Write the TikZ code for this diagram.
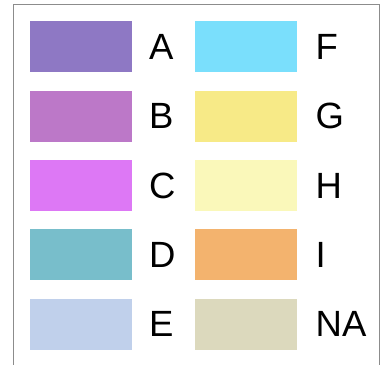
\documentclass[tikz,border=0pt]{standalone}
\usepackage{fontspec}
\setmainfont{Liberation Sans}
\usepackage{xcolor}
\usetikzlibrary{positioning}

\definecolor{colA}{HTML}{8E78C4}
\definecolor{colB}{HTML}{BC78C8}
\definecolor{colC}{HTML}{DD78F5}
\definecolor{colD}{HTML}{78BECB}
\definecolor{colE}{HTML}{C0D0EB}
\definecolor{colF}{HTML}{7ADFFC}
\definecolor{colG}{HTML}{F7EA87}
\definecolor{colH}{HTML}{FAF8BA}
\definecolor{colI}{HTML}{F3B36E}
\definecolor{colNA}{HTML}{DCD9BD}

\tikzset{
  swatch/.style={draw=none,minimum width=102pt,minimum height=51pt,inner sep=0pt},
  lab/.style={anchor=west,inner sep=0pt,font=\fontsize{36.5}{40}\selectfont}
}

\begin{document}
\begin{tikzpicture}[x=1pt,y=-1pt]
\useasboundingbox (0,0) rectangle (384,365);
% frame, open at the bottom
\draw[gray!90,line width=1pt] (13,365) -- (13,4) -- (379,4) -- (379,365);
% left column
\node[swatch,fill=colA] (sA) at (81,46.5) {};
\node[lab] (lA) at (149,46.5) {A};
\node[swatch,fill=colB] (sB) at (81,116) {};
\node[lab] (lB) at (149,116) {B};
\node[swatch,fill=colC] (sC) at (81,185.5) {};
\node[lab] (lC) at (149,185.5) {C};
\node[swatch,fill=colD] (sD) at (81,254.5) {};
\node[lab] (lD) at (149,254.5) {D};
\node[swatch,fill=colE] (sE) at (81,324) {};
\node[lab] (lE) at (149,324) {E};
% right column
\node[swatch,fill=colF] (sF) at (245.5,46.5) {};
\node[lab] (lF) at (315.5,46.5) {F};
\node[swatch,fill=colG] (sG) at (245.5,116) {};
\node[lab] (lG) at (315.5,116) {G};
\node[swatch,fill=colH] (sH) at (245.5,185.5) {};
\node[lab] (lH) at (315.5,185.5) {H};
\node[swatch,fill=colI] (sI) at (245.5,254.5) {};
\node[lab] (lI) at (315.5,254.5) {I};
\node[swatch,fill=colNA] (sNA) at (245.5,324) {};
\node[lab] (lNA) at (315.5,324) {NA};
\end{tikzpicture}
\end{document}
